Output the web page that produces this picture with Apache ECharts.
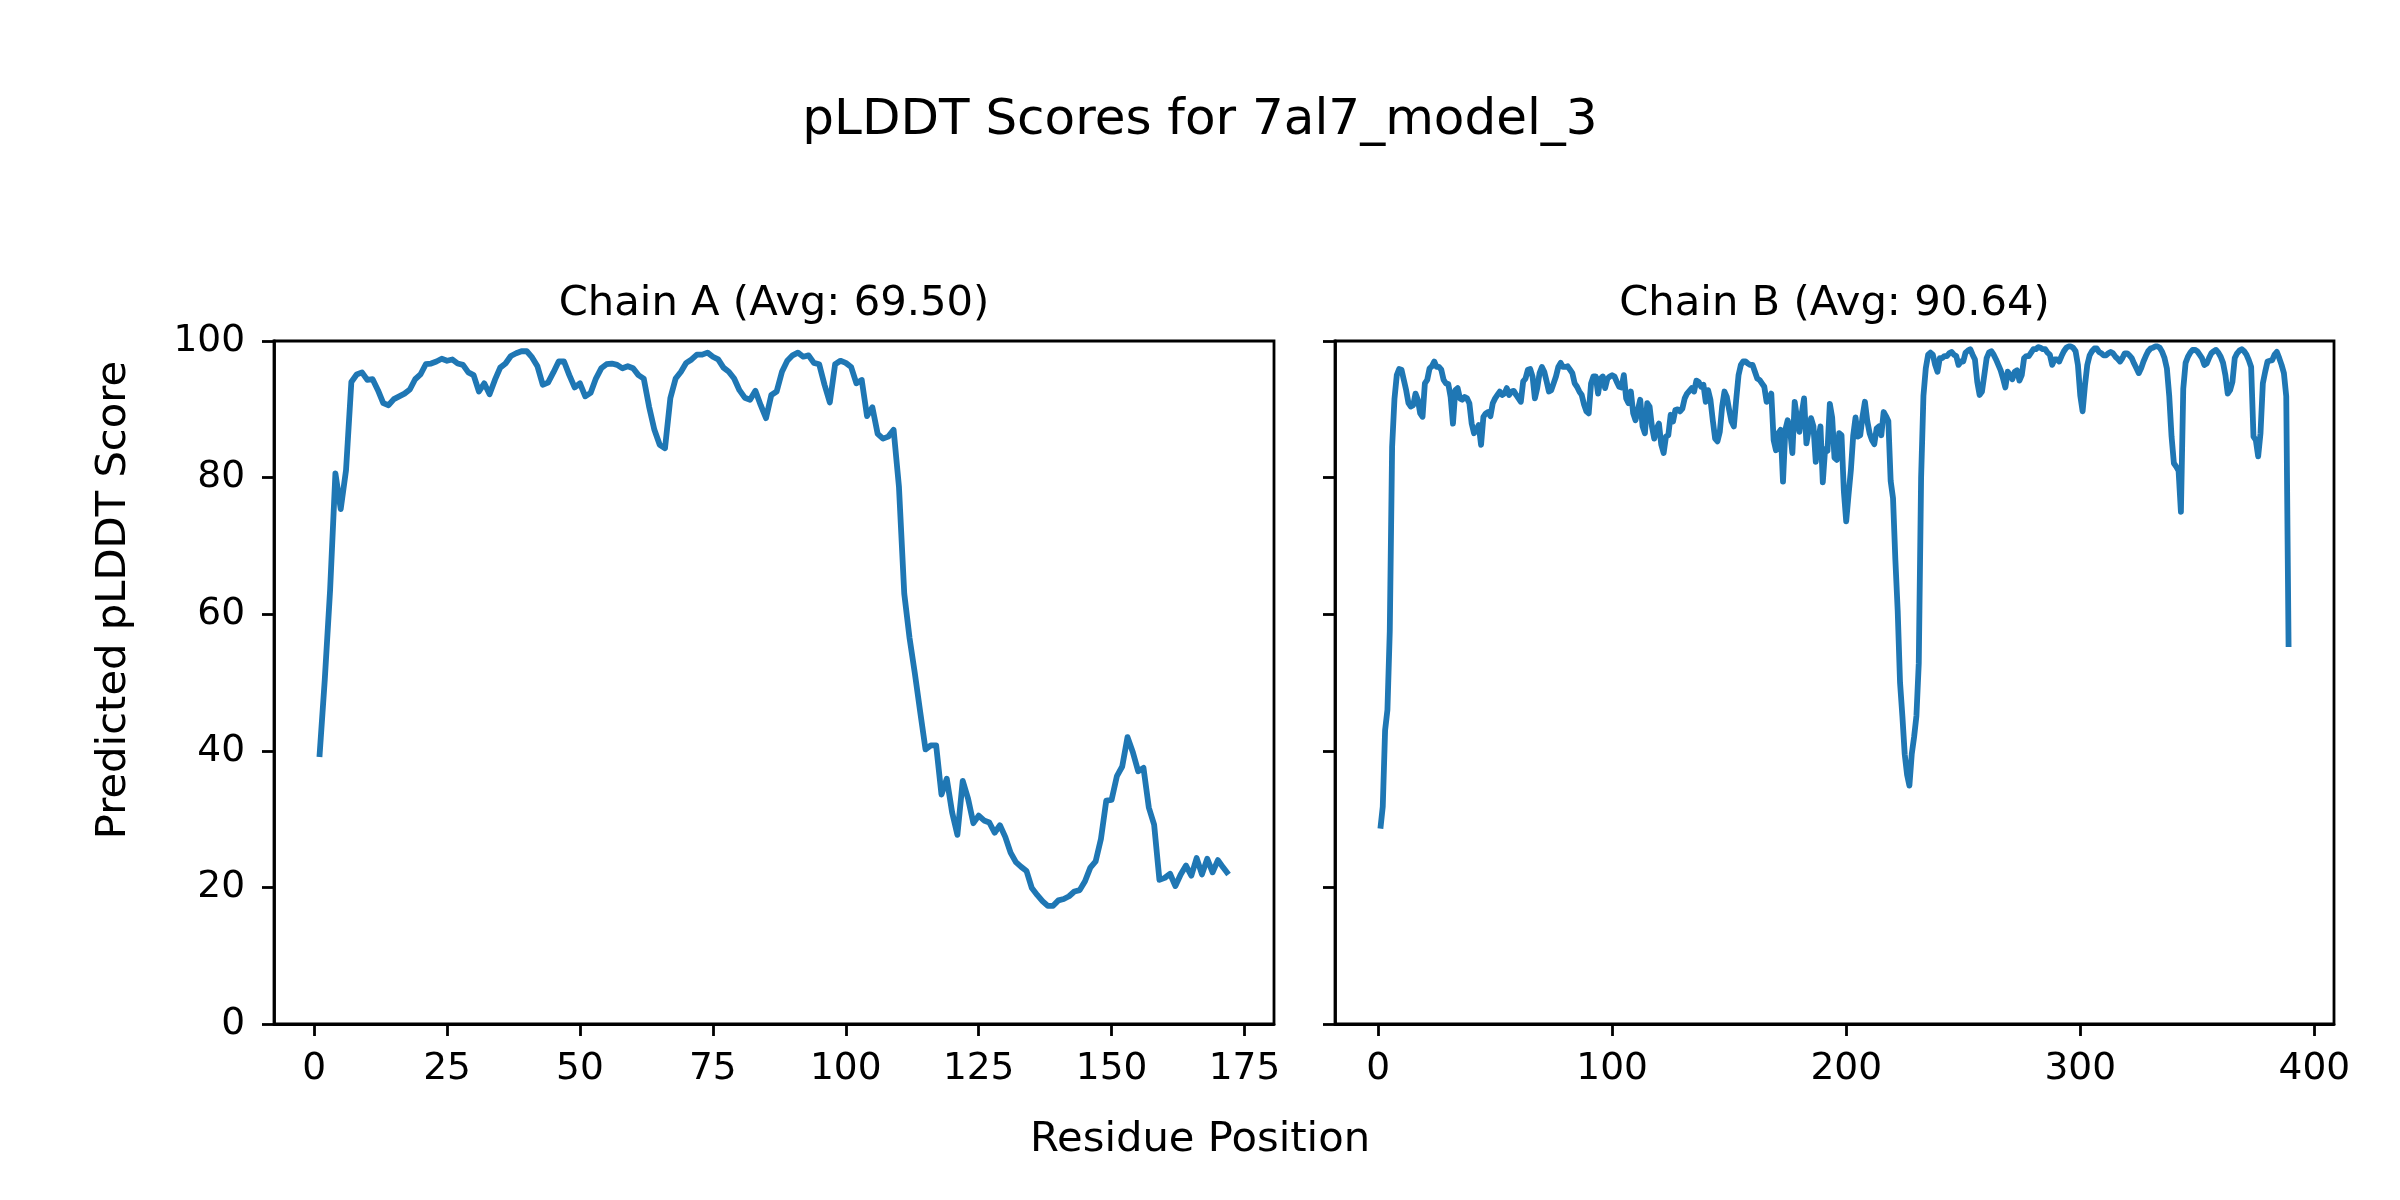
<!DOCTYPE html>
<html>
<head>
<meta charset="utf-8">
<script src="https://cdn.jsdelivr.net/npm/echarts@6/dist/echarts.min.js"></script>
<style>
html,body{margin:0;padding:0;background:#fff;}
#chart{width:2400px;height:1200px;}
</style>
</head>
<body>
<div id="chart"></div>
<script>
// ---- data ----
const figureTitle = 'pLDDT Scores for 7al7_model_3';
const chainATitle = 'Chain A (Avg: 69.50)';
const chainBTitle = 'Chain B (Avg: 90.64)';
const xLabel = 'Residue Position';
const yLabel = 'Predicted pLDDT Score';

// Chain A, residues 1..172
const chainAScores = [
  39.1, 50.4, 63.5, 80.6, 75.4, 81.1, 94.0, 95.1, 95.4, 94.3,
  94.4, 92.8, 90.9, 90.6, 91.5, 91.9, 92.3, 92.9, 94.4, 95.1,
  96.6, 96.7, 97.0, 97.4, 97.1, 97.3, 96.7, 96.5, 95.4, 95.0,
  92.6, 93.8, 92.2, 94.3, 96.1, 96.7, 97.8, 98.2, 98.5, 98.5,
  97.6, 96.3, 93.6, 93.9, 95.4, 97.0, 97.0, 95.0, 93.2, 93.8,
  91.9, 92.4, 94.5, 96.0, 96.6, 96.7, 96.5, 96.0, 96.3, 96.0,
  95.0, 94.5, 90.4, 87.0, 84.8, 84.3, 91.6, 94.5, 95.5, 96.8,
  97.3, 98.0, 98.0, 98.3, 97.7, 97.3, 96.1, 95.5, 94.5, 92.8,
  91.7, 91.4, 92.7, 90.6, 88.7, 92.1, 92.6, 95.5, 97.1, 97.9,
  98.3, 97.7, 97.9, 96.8, 96.6, 93.6, 91.0, 96.6, 97.1, 96.8,
  96.2, 93.8, 94.3, 89.0, 90.3, 86.4, 85.7, 86.0, 87.0, 78.7,
  63.0, 56.5, 51.3, 45.7, 40.2, 40.8, 40.8, 33.6, 35.9, 31.0,
  27.7, 35.6, 33.0, 29.4, 30.5, 29.8, 29.5, 28.0, 29.1, 27.4,
  25.1, 23.7, 23.0, 22.4, 19.9, 18.9, 18.0, 17.3, 17.3, 18.1,
  18.3, 18.7, 19.4, 19.6, 20.9, 22.9, 23.8, 27.1, 32.7, 32.8,
  36.3, 37.7, 42.0, 39.8, 37.0, 37.5, 31.7, 29.2, 21.1, 21.4,
  22.0, 20.2, 21.9, 23.2, 21.7, 24.3, 21.9, 24.2, 22.2, 24.0,
  22.9, 21.9
];

// Chain B, residues 1..389
const chainBScores = [
  28.6, 31.8, 43.0, 46.0, 57.5, 84.5, 91.5, 95.0, 95.9, 95.8,
  94.3, 92.8, 90.9, 90.4, 90.6, 92.3, 91.4, 89.4, 88.9, 93.8,
  94.3, 96.0, 96.3, 97.0, 96.2, 96.2, 95.8, 94.3, 93.8, 93.7,
  91.8, 87.9, 92.8, 93.1, 91.6, 91.4, 91.8, 91.6, 90.9, 87.9,
  86.5, 87.0, 87.7, 84.8, 88.9, 89.4, 89.6, 89.0, 90.9, 91.6,
  92.1, 92.6, 92.1, 92.3, 93.1, 92.1, 92.6, 92.7, 92.1, 91.6,
  91.1, 94.1, 94.5, 95.8, 95.9, 94.8, 91.6, 93.1, 95.3, 96.2,
  95.5, 94.1, 92.6, 92.8, 93.8, 94.8, 96.2, 96.8, 96.2, 96.2,
  96.3, 95.8, 95.3, 93.8, 93.3, 92.6, 92.1, 90.7, 89.7, 89.4,
  93.8, 94.8, 94.8, 92.3, 94.5, 94.8, 93.1, 94.5, 94.8, 95.0,
  94.8, 94.0, 93.3, 93.2, 95.0, 91.6, 90.9, 92.6, 89.4, 88.4,
  89.9, 91.4, 87.5, 86.5, 90.9, 90.4, 87.5, 85.7, 87.2, 87.9,
  84.8, 83.6, 86.0, 86.2, 89.2, 88.2, 89.9, 90.0, 89.7, 90.1,
  91.6, 92.3, 92.7, 93.1, 92.6, 94.2, 94.0, 93.3, 93.6, 91.1,
  92.8, 91.4, 88.4, 85.7, 85.3, 86.7, 90.4, 92.6, 91.8, 89.9,
  88.2, 87.5, 91.4, 95.0, 96.5, 97.0, 97.0, 96.7, 96.5, 96.5,
  95.5, 94.5, 94.3, 93.8, 93.3, 91.1, 91.4, 92.3, 85.5, 84.0,
  86.5, 87.0, 79.4, 87.0, 88.4, 87.0, 83.6, 91.1, 88.7, 86.7,
  89.4, 91.6, 85.0, 87.0, 88.7, 87.5, 82.3, 85.5, 87.5, 79.3,
  84.2, 83.9, 90.8, 88.8, 82.9, 82.6, 86.5, 86.2, 78.0, 73.6,
  77.5, 81.1, 86.2, 88.8, 86.0, 86.2, 89.0, 91.1, 88.3, 86.5,
  85.5, 84.9, 87.2, 87.5, 86.2, 89.6, 89.0, 88.3, 79.5, 77.0,
  68.0, 60.5, 50.0, 45.1, 39.5, 36.5, 34.9, 39.5, 42.0, 45.1,
  52.8, 80.0, 92.0, 96.0, 98.0, 98.3, 98.0, 96.5, 95.5, 97.5,
  97.5, 97.8, 97.8, 98.2, 98.4, 98.0, 97.8, 96.5, 97.0, 97.0,
  98.3, 98.6, 98.8, 98.0, 97.3, 94.0, 92.1, 92.6, 95.0, 97.5,
  98.3, 98.5, 98.0, 97.3, 96.5, 95.7, 94.5, 93.2, 95.5, 95.0,
  94.4, 95.5, 95.7, 94.2, 95.0, 97.5, 97.8, 97.8, 98.3, 98.8,
  98.8, 99.1, 99.0, 98.8, 98.8, 98.3, 98.0, 96.5, 97.3, 97.3,
  97.0, 97.8, 98.5, 99.0, 99.2, 99.2, 99.0, 98.5, 96.5, 92.0,
  89.7, 93.5, 96.5, 97.9, 98.5, 98.9, 98.9, 98.4, 98.2, 97.9,
  97.9, 98.2, 98.4, 98.2, 97.7, 97.4, 97.0, 97.5, 98.2, 98.2,
  97.9, 97.5, 96.7, 96.0, 95.3, 96.0, 97.0, 97.8, 98.5, 98.9,
  99.0, 99.2, 99.2, 99.0, 98.4, 97.5, 96.0, 92.0, 86.0, 82.1,
  81.6, 81.0, 75.0, 93.0, 96.8, 97.7, 98.3, 98.7, 98.7, 98.5,
  98.0, 97.5, 96.5, 96.7, 97.5, 98.2, 98.5, 98.7, 98.3, 97.7,
  96.8, 95.0, 92.3, 92.8, 94.0, 97.5, 98.2, 98.6, 98.8, 98.5,
  98.0, 97.2, 96.2, 86.0, 85.5, 83.1, 86.5, 93.8, 95.5, 97.0,
  97.1, 97.2, 98.0, 98.4, 97.5, 96.5, 95.3, 91.9, 55.2
];

const chainATicks = [0, 25, 50, 75, 100, 125, 150, 175];
const chainBTicks = [0, 100, 200, 300, 400];
const yTicks = [0, 20, 40, 60, 80, 100];

// ---- chart ----
const FONT = 'DejaVu Sans';
const TICK_FS = 37.5;
const SUB_FS = 41.7;
const SUPTITLE_FS = 50;
const LINE_W = 2.8;

function paddedRange(n) {
  const pad = (n - 1) * 0.05;
  return [1 - pad, n + pad];
}
const rangeA = paddedRange(chainAScores.length);
const rangeB = paddedRange(chainBScores.length);

function xAxisCfg(grid, range, ticks) {
  return {
    gridIndex: grid, type: 'value', min: range[0], max: range[1],
    axisLine: { show: true, onZero: false, lineStyle: { color: '#000', width: LINE_W } },
    axisTick: { show: true, inside: false, length: 12, customValues: ticks,
                lineStyle: { color: '#000', width: LINE_W } },
    axisLabel: { show: true, customValues: ticks, margin: 26, color: '#000',
                 fontSize: TICK_FS, fontFamily: FONT },
    splitLine: { show: false }
  };
}
function yAxisCfg(grid, showLabels) {
  return {
    gridIndex: grid, type: 'value', min: yTicks[0], max: yTicks[yTicks.length - 1],
    interval: yTicks[1] - yTicks[0],
    axisLine: { show: true, onZero: false, lineStyle: { color: '#000', width: LINE_W } },
    axisTick: { show: true, inside: false, length: 12, lineStyle: { color: '#000', width: LINE_W } },
    axisLabel: { show: showLabels, margin: 29, color: '#000', fontSize: TICK_FS, fontFamily: FONT },
    splitLine: { show: false }
  };
}
function lineSeries(idx, scores) {
  return {
    type: 'line', xAxisIndex: idx, yAxisIndex: idx,
    data: scores.map((v, i) => [i + 1, v]),
    symbol: 'none', showSymbol: false, smooth: false,
    lineStyle: { color: '#1f77b4', width: 5.8, join: 'round' },
    itemStyle: { color: '#1f77b4' }
  };
}
function txt(text, x, y, size, rot) {
  return { type: 'text', x: x, y: y, rotation: rot || 0,
    style: { text: text, fill: '#000', fontSize: size, fontFamily: FONT,
             align: 'center', verticalAlign: 'middle' } };
}

const chart = echarts.init(document.getElementById('chart'), null, { renderer: 'canvas' });
chart.setOption({
  animation: false,
  backgroundColor: '#fff',
  grid: [
    { left: 274, top: 341, width: 1000, height: 683, show: true, borderColor: '#000', borderWidth: LINE_W, backgroundColor: 'transparent' },
    { left: 1335, top: 341, width: 999, height: 683, show: true, borderColor: '#000', borderWidth: LINE_W, backgroundColor: 'transparent' }
  ],
  xAxis: [xAxisCfg(0, rangeA, chainATicks), xAxisCfg(1, rangeB, chainBTicks)],
  yAxis: [yAxisCfg(0, true), yAxisCfg(1, false)],
  series: [lineSeries(0, chainAScores), lineSeries(1, chainBScores)],
  graphic: [
    txt(figureTitle, 1200, 121, SUPTITLE_FS),
    txt(chainATitle, 774, 304, SUB_FS),
    txt(chainBTitle, 1834.5, 304, SUB_FS),
    txt(xLabel, 1200, 1140, SUB_FS),
    txt(yLabel, 114, 600, SUB_FS, Math.PI / 2)
  ]
});
</script>
</body>
</html>
